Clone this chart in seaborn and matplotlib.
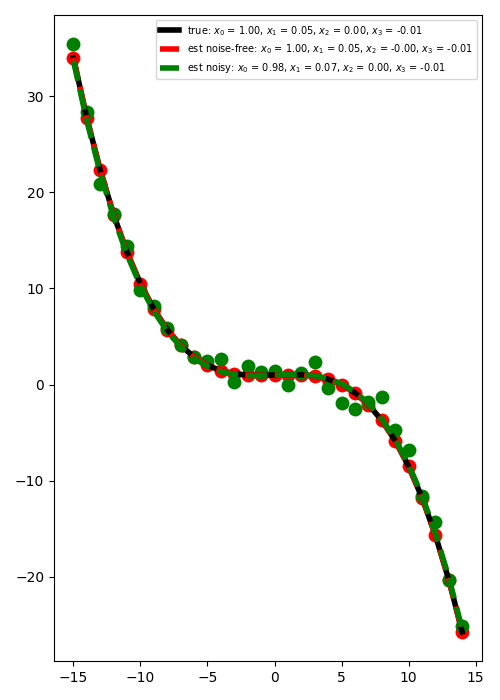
import matplotlib
matplotlib.use("Agg")
import matplotlib.pyplot as plt
import seaborn as sns
import numpy as np

x_vals = [-15, -14, -13, -12, -11, -10, -9, -8, -7, -6, -5, -4, -3, -2, -1,
          0, 1, 2, 3, 4, 5, 6, 7, 8, 9, 10, 11, 12, 13, 14]

true_vals = [34.00, 27.74, 22.32, 17.68, 13.76, 10.50, 7.84, 5.72, 4.08, 2.86,
             2.00, 1.44, 1.12, 0.98, 0.96, 1.00, 1.04, 1.02, 0.88, 0.56,
             0.00, -0.86, -2.08, -3.72, -5.84, -8.50, -11.76, -15.68, -20.32, -25.74]

est_free_vals = [34.00, 27.74, 22.32, 17.68, 13.76, 10.50, 7.84, 5.72, 4.08, 2.86,
                 2.00, 1.44, 1.12, 0.98, 0.96, 1.00, 1.04, 1.02, 0.88, 0.56,
                 0.00, -0.86, -2.08, -3.72, -5.84, -8.50, -11.76, -15.68, -20.32, -25.74]

est_noisy_vals = [33.70, 27.45, 22.05, 17.43, 13.53, 10.28, 7.64, 5.54, 3.92, 2.72,
                  1.88, 1.34, 1.04, 0.92, 0.92, 0.98, 1.04, 1.04, 0.92, 0.62,
                  0.08, -0.76, -1.96, -3.58, -5.68, -8.32, -11.56, -15.46, -20.08, -25.48]

noisy_points = [35.4, 28.4, 20.85, 17.7, 14.4, 9.8, 8.2, 5.9, 4.1, 2.9,
                2.45, 2.65, 0.25, 1.9, 1.3, 1.4, -0.05, 1.2, 2.35, -0.35,
                -1.9, -2.55, -1.8, -1.3, -4.7, -6.8, -11.6, -14.3, -20.3, -25.1]

label_true = r"true: $x_0$ = 1.00, $x_1$ = 0.05, $x_2$ = 0.00, $x_3$ = -0.01"
label_free = r"est noise-free: $x_0$ = 1.00, $x_1$ = 0.05, $x_2$ = -0.00, $x_3$ = -0.01"
label_noisy = r"est noisy: $x_0$ = 0.98, $x_1$ = 0.07, $x_2$ = 0.00, $x_3$ = -0.01"

fig, ax = plt.subplots(figsize=(5, 7), dpi=100)

sns.scatterplot(x=x_vals, y=est_free_vals, color="red", s=100, linewidth=0,
                legend=False, ax=ax, zorder=2)
sns.scatterplot(x=x_vals, y=noisy_points, color="green", s=100, linewidth=0,
                legend=False, ax=ax, zorder=2)

sns.lineplot(x=x_vals, y=true_vals, color="black", linewidth=4, label=label_true,
             ax=ax, zorder=3)
sns.lineplot(x=x_vals, y=est_free_vals, color="red", linewidth=4, linestyle="--",
             label=label_free, ax=ax, zorder=3)
sns.lineplot(x=x_vals, y=est_noisy_vals, color="green", linewidth=4, linestyle="--",
             label=label_noisy, ax=ax, zorder=3)

ax.legend(loc="upper right", fontsize=7)
ax.set_xticks([-15, -10, -5, 0, 5, 10, 15])

fig.tight_layout()
fig.savefig("out.png", dpi=100)
